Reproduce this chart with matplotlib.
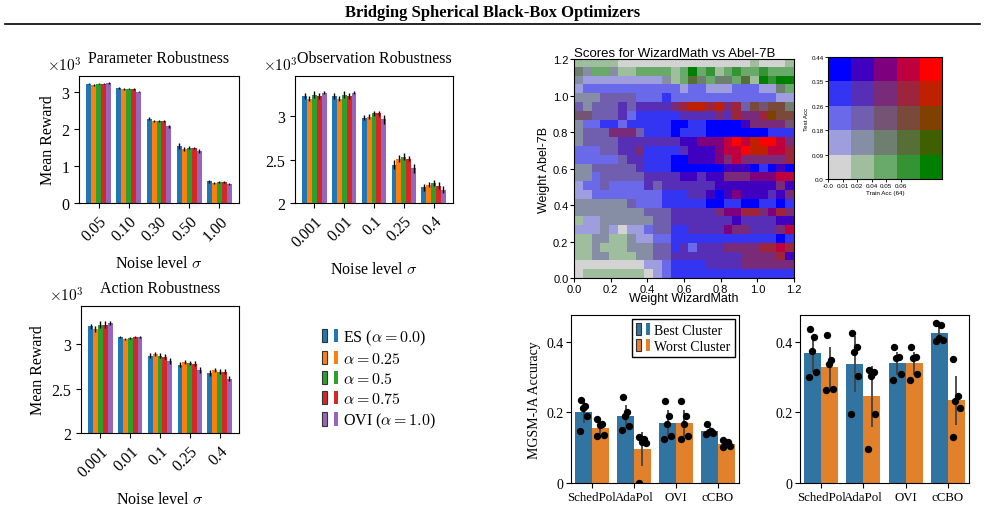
import numpy as np
import matplotlib
matplotlib.use("Agg")
import matplotlib.pyplot as plt
from matplotlib.patches import Rectangle
from matplotlib.legend_handler import HandlerTuple
from matplotlib.ticker import FuncFormatter
import seaborn as sns

plt.rcParams['font.family'] = ['Liberation Serif', 'DejaVu Serif']
plt.rcParams['mathtext.fontset'] = 'cm'
plt.rcParams['axes.formatter.use_mathtext'] = True

# ---------------- data ----------------
series_labels = [r"ES ($\alpha=0.0$)", r"$\alpha=0.25$", r"$\alpha=0.5$", r"$\alpha=0.75$", r"OVI ($\alpha=1.0$)"]
series_colors = ['tab:blue', 'tab:orange', 'tab:green', 'tab:red', 'tab:purple']

param_levels = ["0.05", "0.10", "0.30", "0.50", "1.00"]
param_vals = [[3230, 3200, 3230, 3230, 3250],
              [3120, 3090, 3090, 3090, 3020],
              [2280, 2230, 2230, 2230, 2080],
              [1540, 1470, 1500, 1490, 1410],
              [590, 550, 560, 560, 520]]
param_err = [[20, 20, 20, 20, 20],
             [20, 20, 15, 20, 20],
             [40, 30, 30, 30, 35],
             [80, 50, 40, 40, 60],
             [40, 30, 30, 30, 30]]

obs_levels = ["0.001", "0.01", "0.1", "0.25", "0.4"]
obs_vals = [[3230, 3200, 3245, 3230, 3270],
            [3230, 3200, 3245, 3230, 3270],
            [2980, 2990, 3030, 3030, 2960],
            [2440, 2510, 2530, 2510, 2400],
            [2180, 2210, 2230, 2200, 2150]]
obs_err = [[30, 30, 40, 40, 20],
           [30, 30, 40, 40, 20],
           [30, 30, 30, 30, 50],
           [50, 40, 40, 30, 50],
           [40, 30, 40, 40, 40]]

act_levels = ["0.001", "0.01", "0.1", "0.25", "0.4"]
act_vals = [[3200, 3170, 3220, 3220, 3240],
            [3080, 3060, 3070, 3080, 3080],
            [2870, 2890, 2870, 2860, 2810],
            [2770, 2800, 2790, 2780, 2710],
            [2675, 2710, 2690, 2690, 2610]]
act_err = [[30, 30, 40, 40, 20],
           [10, 10, 10, 10, 10],
           [30, 20, 30, 30, 30],
           [30, 20, 20, 30, 30],
           [30, 20, 30, 30, 30]]

# heatmap: codes "ij" -> i = train-acc bin (0..4), j = test-acc bin (0..4); rows top (1.2) to bottom (0.0)
heat_codes = [
    "10 10 10 10 10 00 00 00 00 00 00 00 00 00 00 00 00 00 00 00 10 00 00 00 10",
    "21 11 20 20 11 10 10 20 20 20 20 10 20 40 20 30 10 20 30 20 20 30 20 20 20",
    "11 01 01 01 01 01 01 01 01 01 11 10 20 31 21 20 21 21 20 31 10 40 30 40 40",
    "01 02 02 02 02 02 02 02 02 02 02 02 01 02 02 01 01 01 02 02 02 01 01 21 20",
    "11 11 11 12 12 12 12 02 02 02 03 02 02 02 02 02 02 02 02 02 02 02 02 01 01",
    "12 11 12 12 12 13 12 13 13 13 13 23 33 43 43 33 43 23 33 12 32 22 32 32 21",
    "22 22 12 12 12 13 02 03 03 03 03 03 13 13 13 13 23 13 33 23 23 33 42 32 32",
    "11 02 02 03 03 02 03 03 03 03 03 04 04 03 03 04 04 04 04 14 23 23 23 23 22",
    "11 12 12 12 23 23 23 12 03 03 03 04 03 03 03 04 04 04 04 04 04 04 03 03 03",
    "11 12 12 12 12 13 13 13 13 13 13 13 14 14 24 24 24 34 44 34 43 44 44 34 23",
    "02 02 02 12 12 13 13 23 03 03 03 03 13 14 14 14 24 34 34 44 43 43 34 34 33",
    "02 02 02 02 02 12 13 13 03 03 03 04 04 14 14 14 24 23 34 23 23 23 23 23 33",
    "11 11 12 12 12 12 12 13 03 03 03 04 04 04 04 04 04 14 14 14 04 03 04 14 04",
    "11 11 02 12 12 12 12 12 13 13 13 13 14 14 13 14 14 23 23 23 24 24 24 34 34",
    "01 02 02 12 02 02 02 02 13 12 13 13 13 13 13 13 14 14 14 14 14 14 14 23 14",
    "01 01 02 02 02 02 02 02 02 02 03 03 03 13 13 14 04 14 24 14 14 14 13 14 23",
    "11 11 11 11 11 11 12 02 02 02 03 03 03 03 03 04 04 03 03 04 04 03 03 04 03",
    "11 11 11 11 11 11 11 11 12 12 12 13 13 13 13 13 23 24 24 33 33 23 24 33 23",
    "10 01 01 11 11 11 11 11 11 12 12 13 13 13 13 13 13 13 14 13 13 13 13 14 14",
    "01 01 01 11 01 00 01 01 02 12 12 03 03 13 13 13 13 24 23 23 13 13 13 23 34",
    "10 10 11 11 10 10 11 01 01 02 02 03 03 03 03 03 03 03 03 03 03 03 03 04 03",
    "10 10 11 10 10 10 11 11 11 12 12 03 13 02 13 13 13 23 23 23 23 33 33 34 33",
    "10 10 11 11 10 10 10 11 11 12 12 13 13 13 13 13 13 13 13 23 23 23 23 33 14",
    "00 00 00 00 00 00 00 00 01 01 02 03 03 03 03 13 13 13 13 23 23 23 23 23 23",
    "00 10 10 10 10 10 10 10 00 01 02 03 03 03 03 03 03 03 03 03 03 03 03 03 03",
]
train_acc_ticks = ["-0.0", "0.01", "0.02", "0.04", "0.05", "0.06"]
test_acc_ticks = ["0.0", "0.09", "0.18", "0.26", "0.35", "0.44"]

methods = ["SchedPol", "AdaPol", "OVI", "cCBO"]
clusters = ["Best Cluster", "Worst Cluster"]
mgsm_left_best = [[0.236, 0.219, 0.212, 0.189, 0.147],
                  [0.2425, 0.200, 0.189, 0.162, 0.149],
                  [0.232, 0.189, 0.167, 0.134, 0.125],
                  [0.167, 0.148, 0.143, 0.142, 0.139]]
mgsm_left_worst = [[0.180, 0.167, 0.165, 0.135, 0.133],
                   [0.131, 0.125, 0.115, 0.113, 0.0],
                   [0.232, 0.189, 0.167, 0.134, 0.125],
                   [0.122, 0.117, 0.112, 0.106, 0.101]]
mgsm_right_best = [[0.436, 0.412, 0.375, 0.313, 0.301],
                   [0.425, 0.384, 0.372, 0.304, 0.195],
                   [0.384, 0.356, 0.354, 0.308, 0.291],
                   [0.452, 0.448, 0.409, 0.406, 0.402]]
mgsm_right_worst = [[0.420, 0.349, 0.337, 0.266, 0.263],
                    [0.320, 0.313, 0.304, 0.195, 0.096],
                    [0.384, 0.356, 0.354, 0.308, 0.291],
                    [0.351, 0.247, 0.231, 0.211, 0.129]]

# ---------------- figure ----------------
fig = plt.figure(figsize=(9.85, 5.10), dpi=100)
W, H = 985.0, 510.0


def ax_px(x0, y0, x1, y1):
    return fig.add_axes([x0 / W, 1 - y1 / H, (x1 - x0) / W, (y1 - y0) / H])


fig.text(0.5, 1 - 13 / H, "Bridging Spherical Black-Box Optimizers", ha='center', va='center',
         fontsize=12, fontweight='bold')
fig.add_artist(plt.Line2D([0.005, 0.995], [1 - 25 / H, 1 - 25 / H], color='black', lw=1.2,
                          transform=fig.transFigure))

bw = 0.165


def robust_panel(ax, title, levels, vals, errs, ylim, yticks):
    vals = np.array(vals, float)
    errs = np.array(errs, float)
    x = np.arange(len(levels))
    for k in range(vals.shape[1]):
        xs = x + (k - 2) * bw
        ax.bar(xs, vals[:, k], width=bw, color=series_colors[k], label=series_labels[k])
        ax.errorbar(xs, vals[:, k], yerr=errs[:, k], fmt='none', ecolor='black', elinewidth=1.0, capsize=0)
    ax.set_xlim(-0.65, len(levels) - 0.35)
    ax.set_ylim(*ylim)
    ax.set_xticks(x)
    ax.set_xticklabels(levels, rotation=45, ha='right', rotation_mode='anchor', fontsize=11.5)
    ax.set_yticks(yticks)
    ax.yaxis.set_major_formatter(FuncFormatter(lambda v, p: f"{v / 1000:g}"))
    ax.tick_params(labelsize=11.5)
    ax.set_title(title, fontsize=11.5, pad=10)
    ax.set_xlabel(r"Noise level $\sigma$", fontsize=11.5, labelpad=8)
    ax.text(0.02, 1.02, r"$\times10^{3}$", transform=ax.transAxes, ha='right', va='bottom', fontsize=11)


ax1 = ax_px(79, 77, 239, 204)
robust_panel(ax1, "Parameter Robustness", param_levels, param_vals, param_err, (0, 3440), [0, 1000, 2000, 3000])
ax1.set_ylabel("Mean Reward", fontsize=11.5)

ax2 = ax_px(295, 77, 453, 204)
robust_panel(ax2, "Observation Robustness", obs_levels, obs_vals, obs_err, (2000, 3460), [2000, 2500, 3000])

ax3 = ax_px(81, 307, 239, 434)
robust_panel(ax3, "Action Robustness", act_levels, act_vals, act_err, (2000, 3430), [2000, 2500, 3000])
ax3.set_ylabel("Mean Reward", fontsize=11.5)

# legend for robustness panels
handles = [(Rectangle((0, 0), 1, 1, facecolor=c, edgecolor='#333333', lw=0.8),
            Rectangle((0, 0), 1, 1, facecolor=c)) for c in series_colors]
fig.legend(handles, series_labels, handler_map={tuple: HandlerTuple(ndivide=None, pad=0.4)},
           loc='upper left', bbox_to_anchor=(308 / W, 1 - 314 / H), frameon=False, fontsize=11.5,
           handlelength=1.0, handleheight=0.9, handletextpad=0.3, labelspacing=0.25)

# ---------------- heatmap ----------------
gray = np.array([211, 211, 211]) / 255
green = np.array([0, 128, 0]) / 255
blue = np.array([0, 0, 255]) / 255
red = np.array([255, 0, 0]) / 255


def bicolor(i, j):
    u, v = i / 4.0, j / 4.0
    return (1 - u) * (1 - v) * gray + u * (1 - v) * green + (1 - u) * v * blue + u * v * red


img = np.array([[bicolor(int(c[0]), int(c[1])) for c in row.split()] for row in heat_codes])
hfont = ['Liberation Sans', 'DejaVu Sans']
axh = ax_px(574, 60, 794, 279.3)
axh.imshow(img, extent=[0, 1.2, 0, 1.2], origin='upper', aspect='auto', interpolation='nearest')
axh.set_xlim(0, 1.2)
axh.set_ylim(0, 1.2)
ticks = np.arange(0, 1.21, 0.2)
axh.set_xticks(ticks)
axh.set_yticks(ticks)
axh.set_xticklabels([f"{t:.1f}" for t in ticks], family=hfont, fontsize=8)
axh.set_yticklabels([f"{t:.1f}" for t in ticks], family=hfont, fontsize=8)
axh.tick_params(length=3, pad=1)
axh.set_title("Scores for WizardMath vs Abel-7B", family=hfont, fontsize=9.5, loc='left', pad=1)
axh.set_xlabel("Weight WizardMath", family=hfont, fontsize=9, labelpad=-1)
axh.set_ylabel("Weight Abel-7B", family=hfont, fontsize=9, labelpad=2)

# colour key
key = np.array([[bicolor(i, j) for i in range(5)] for j in range(5)])
axk = ax_px(828, 58, 942, 180)
axk.imshow(key, extent=[0, 5, 0, 5], origin='lower', aspect='auto', interpolation='nearest')
axk.set_xlim(0, 5)
axk.set_ylim(0, 5)
axk.set_yticks(np.arange(6))
axk.set_yticklabels(test_acc_ticks, family=hfont, fontsize=4.5)
axk.set_xticks(np.arange(6) * 0.64)
axk.set_xticklabels(train_acc_ticks, family=hfont, fontsize=4.5)
axk.tick_params(length=2, pad=1, width=0.6)
axk.set_xlabel("Train Acc (64)", family=hfont, fontsize=4.5, labelpad=1)
axk.set_ylabel("Test Acc", family=hfont, fontsize=4.5, labelpad=2)

# ---------------- MGSM bars ----------------
cl_colors = [sns.desaturate('tab:blue', 0.75), sns.desaturate('tab:orange', 0.75)]
offsets = np.array([-0.07, 0.04, -0.02, 0.08, -0.09])


def mgsm_panel(ax, best, worst):
    x = np.arange(len(methods))
    for h, data in enumerate([best, worst]):
        d = np.array(data, float)
        m = d.mean(axis=1)
        ci = 1.96 * d.std(axis=1, ddof=1) / np.sqrt(d.shape[1])
        xs = x + (h - 0.5) * 0.4
        ax.bar(xs, m, width=0.4, color=cl_colors[h], label=clusters[h], zorder=1)
        ax.errorbar(xs, m, yerr=ci, fmt='none', ecolor='#424242', elinewidth=1.3, capsize=0, zorder=2)
        for g in range(len(methods)):
            ax.scatter(xs[g] + offsets, d[g], s=28, color='black', zorder=3, linewidths=0)
    ax.set_xlim(-0.5, len(methods) - 0.5)
    ax.set_ylim(0, 0.4755)
    ax.set_xticks(x)
    ax.set_xticklabels(methods, fontsize=9.3)
    ax.set_yticks([0, 0.2, 0.4])
    ax.set_yticklabels(["0", "0.2", "0.4"], fontsize=10)
    ax.tick_params(pad=2)


axm1 = ax_px(571, 316, 739, 484)
mgsm_panel(axm1, mgsm_left_best, mgsm_left_worst)
axm1.set_ylabel("MGSM-JA Accuracy", fontsize=10)
leg_handles = [(Rectangle((0, 0), 1, 1, facecolor=c, edgecolor='#333333', lw=0.8),
                Rectangle((0, 0), 1, 1, facecolor=c)) for c in cl_colors]
axm1.legend(leg_handles, clusters, handler_map={tuple: HandlerTuple(ndivide=None, pad=0.4)},
            loc='upper right', fontsize=10, handlelength=1.0, handleheight=0.9, handletextpad=0.3,
            labelspacing=0.15, borderpad=0.3, fancybox=False, edgecolor='black', framealpha=1,
            borderaxespad=0.3)

axm2 = ax_px(800, 316, 969, 484)
mgsm_panel(axm2, mgsm_right_best, mgsm_right_worst)

fig.savefig("out.png", dpi=100)
